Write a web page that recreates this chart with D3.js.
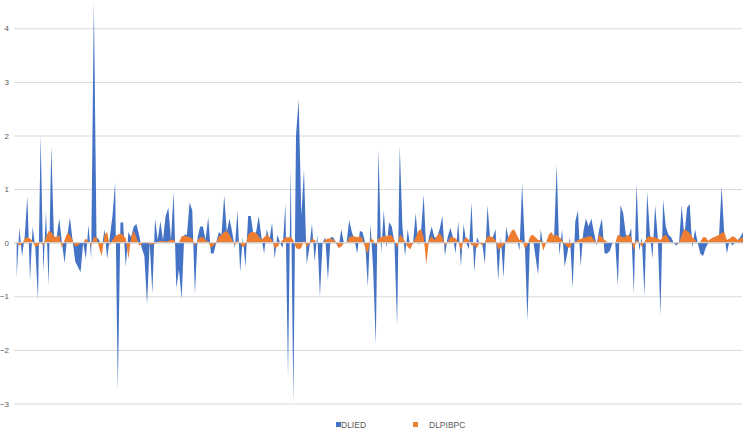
<!DOCTYPE html>
<html><head><meta charset="utf-8">
<script src="https://cdn.jsdelivr.net/npm/d3@7"></script>
<style>body{margin:0;background:#fff}svg{display:block}</style>
</head><body>
<svg id="c" width="744" height="430"></svg>
<script>
const seriesNames = ["DLIED", "DLPIBPC"];
const yTicks = [-3, -2, -1, 0, 1, 2, 3, 4];
const dlied = [
-0.65,0.28,-0.25,0.1,0.87,-0.7,0.3,-0.1,-1.07,2.0,
-0.55,0.58,-0.8,1.8,0.1,0.1,0.45,0.0,-0.38,0.1,
0.47,0.05,-0.35,-0.45,-0.55,0,-0.3,0.33,-0.3,4.5,
0.1,0.05,-0.1,0.25,-0.3,0.1,0.5,1.13,-2.75,0.37,
0.38,-0.45,0.2,0.1,0.3,0.35,0.15,-0.1,-0.25,-1.15,
0,-0.95,0.45,0.05,0.4,0.05,0.5,0.65,0.05,0.95,
-0.85,-0.5,-1.05,0.15,0.15,
0.75,0.6,-0.97,0.1,0.3,0.3,0.05,0.48,-0.2,-0.2,
0,0.2,0.15,0.88,0.2,0.45,0.2,-0.1,0.6,-0.55,
0.1,-0.45,0.5,0.5,0.15,0.2,0.5,0.1,-0.2,0.25,
0.05,0.37,-0.3,0.15,0,-0.1,0.73,-2.5,1.4,-3.0,
2.0,2.67,0.5,1.35,-0.4,-0.1,0.35,-0.35,0.15,-1.0,
0,0.1,-0.7,0.1,0.1,0,-0.1,0.25,0,0,
0.42,0.2,0.05,-0.2,0.22,0.2,0,-0.82,
0.35,-0.5,-1.9,1.75,-0.2,0.6,-0.1,0.38,0.3,0,
-1.55,1.8,0.3,-0.25,0.25,-0.1,0,0.55,-0.05,0.2,
0.9,-0.2,0.1,0.3,0.1,0.1,0.25,0.5,-0.25,0.1,
0.28,0.1,-0.2,0.4,-0.45,0.35,0,-0.12,0.75,-0.55,
0.1,0,0,-0.4,0.7,0.05,0.1,0.25,-0.7,0.1,
-0.65,0.3,0.05,0,0.2,0.1,-0.15,1.1,0,-1.45,
0.1,0.1,-0.25,-0.6,0.25,-0.1,0,0,0.1,
0.05,1.45,-0.25,0.25,-0.45,-0.2,0.1,-0.85,0.4,0.6,
-0.45,0.2,0.45,0.3,0.45,0.2,-0.05,0.25,0.45,-0.2,
-0.2,-0.15,0,0,-0.8,0.7,0.55,0.15,0.1,0.28,
-0.95,1.1,-0.15,0.1,-1.0,0.95,0.2,-0.3,0.7,0.1,
-1.35,0.8,0.3,0.15,0.1,0,-0.05,0,0.7,0.1,
0.65,0.72,-0.1,0.25,0,-0.2,-0.25,-0.1,0,0,
0,0,0.1,1.05,0.15,-0.2,0.05,-0.05,0,0.05,
0.1,0.2
];
const dlpibpc = [
0,-0.05,-0.03,0.08,0.1,0.08,0.03,-0.08,-0.05,0,
-0.05,0.1,0.22,0.2,0.12,0.1,0.15,-0.1,0.05,0.18,
0.15,0.05,-0.07,-0.05,0,0,0.08,0.02,-0.05,0.1,
0.1,-0.1,-0.25,0.15,0.2,-0.05,0.05,0.12,0.15,0.17,
0.15,0.08,-0.3,0.1,0.22,0.1,-0.05,-0.03,0.02,0,
-0.03,-0.03,-0.02,0.02,0.03,0.03,0.02,0.03,0.06,0.05,
0,0,0.12,0.13,0.12,
0.1,0.08,-0.05,0.05,0.1,0.1,0.05,0.02,-0.1,-0.05,
0,0.12,0.15,0.2,0.22,0.15,0.05,-0.05,0.05,-0.02,
-0.08,-0.05,0.15,0.2,0.2,0.18,0.12,0.05,0.1,0.15,
0.1,0.05,-0.1,-0.08,0,0.05,0.1,0.1,0.1,0.05,
-0.1,-0.12,-0.1,0.05,-0.08,-0.02,0.08,0.05,0,0,
0,0.05,0.08,0.08,0.06,0.02,-0.1,-0.08,0,0,
0.1,0.12,0.12,0.1,0.12,0.08,-0.1,-0.2,
0.08,0.05,-0.05,0.08,0.1,0.12,0.12,0.15,0.13,0.05,
-0.1,0.15,0.1,0.02,-0.08,-0.12,0,0.1,0.22,0.25,
0.1,-0.4,0.05,0.12,0.05,0.12,0.18,0.1,-0.05,0,
0.1,0.1,0.08,0.02,-0.15,0.05,0.1,0.05,-0.05,-0.05,
-0.1,0,-0.05,0.02,0.12,0.12,0.1,0.05,-0.12,-0.1,
-0.05,0.02,0.12,0.22,0.25,0.15,0.05,0.05,-0.1,-0.05,
0.12,0.15,0.1,0.05,0.05,-0.15,0,0.15,0.2,
0.12,0.15,0.1,0.05,-0.03,-0.08,-0.1,0,0.02,0.05,
0.07,0.09,0.1,0.12,0.12,0.05,0,0.15,0.1,0.05,
0.02,0,0,0,0.15,0.12,0.1,0.12,0.15,0.1,
-0.15,0.05,0.02,-0.08,0.02,0.1,0.12,0.1,0.1,0.08,
0.05,0.12,0.15,0.08,0,0,-0.02,0,0.15,0.25,
0.22,0.18,0.1,0.05,0,0.02,0.1,0.1,0.03,0.08,
0.1,0.12,0.15,0.18,0.2,0.05,0.08,0.12,0.1,0.05,
0.08,0.1
];
const categories = d3.range(1, dlied.length + 1);
const colors = ["#4472C4", "#ED7D31"];

const svg = d3.select("#c");
const x = d3.scalePoint().domain(categories).range([16.7, 742.9]);
const y = d3.scaleLinear().domain([-3, 4]).range([403.5, 28.3]);

// gridlines
const yAxis = d3.axisLeft(y).tickValues(yTicks).tickSize(-728).tickPadding(4).tickFormat(d3.format("d"));
const g = svg.append("g").attr("transform", "translate(14,0)").call(yAxis);
g.select(".domain").remove();
g.selectAll(".tick line").attr("stroke", "#d9d9d9").attr("stroke-width", 1);
g.selectAll(".tick text").attr("fill", "#595959").style("font-family", "Liberation Sans, Arial, sans-serif").style("font-size", "8px").attr("x", -5);

const area = d3.area().x((d, i) => x(categories[i])).y0(y(0)).y1(d => y(d));
[dlied, dlpibpc].forEach((s, k) => {
  svg.append("path").datum(s).attr("d", area).attr("fill", colors[k]);
});

svg.append("line").attr("x1", 14).attr("x2", 742).attr("y1", y(0)).attr("y2", y(0)).attr("stroke", "#d9d9d9").attr("stroke-width", 1);

// legend
const legendX = [336, 413];
const textX = [341, 429];
seriesNames.forEach((n, k) => {
  svg.append("rect").attr("x", legendX[k]).attr("y", 422).attr("width", 5).attr("height", 5).attr("fill", colors[k]);
  svg.append("text").attr("x", textX[k]).attr("y", 428).text(n).attr("fill", "#595959")
    .style("font-family", "Liberation Sans, Arial, sans-serif").style("font-size", "8.5px");
});
</script>
</body></html>
